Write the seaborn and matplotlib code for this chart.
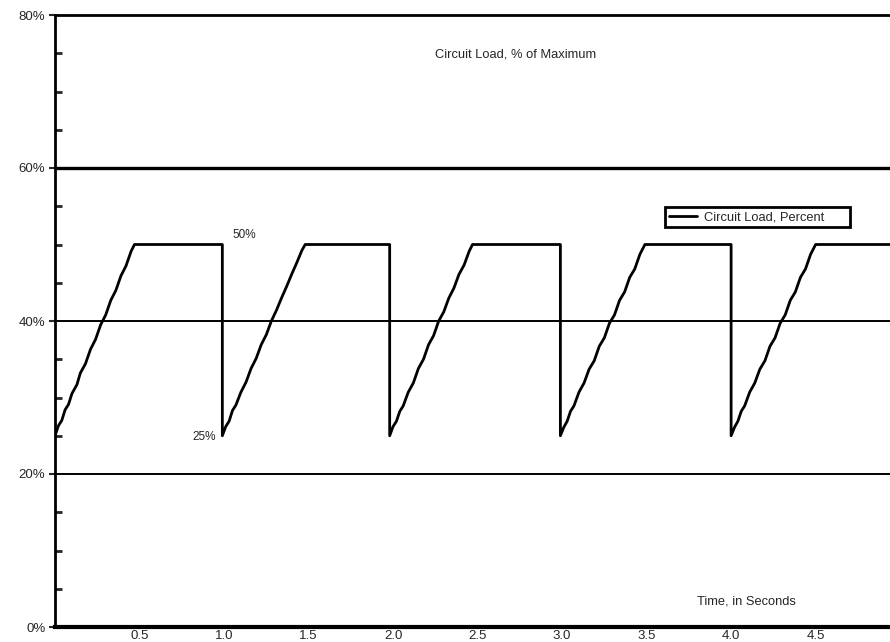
import matplotlib
matplotlib.use("Agg")
import matplotlib.pyplot as plt
import seaborn as sns
import pandas as pd
from matplotlib.ticker import MultipleLocator, FixedLocator

# time in seconds and circuit load in percent
time_s = [
    0.00, 0.02, 0.04, 0.06, 0.08, 0.10, 0.13, 0.15, 0.18, 0.21, 0.24, 0.27, 0.30, 0.33, 0.36, 0.39, 0.42, 0.45, 0.47, 0.99,
    0.99, 1.01, 1.03, 1.05, 1.07, 1.10, 1.13, 1.16, 1.19, 1.22, 1.25, 1.28, 1.31, 1.34, 1.37, 1.40, 1.43, 1.46, 1.48, 1.98,
    1.98, 2.00, 2.02, 2.04, 2.06, 2.09, 2.12, 2.15, 2.18, 2.21, 2.24, 2.27, 2.30, 2.33, 2.36, 2.39, 2.42, 2.45, 2.47, 2.99,
    2.99, 3.01, 3.03, 3.05, 3.07, 3.10, 3.13, 3.16, 3.19, 3.22, 3.25, 3.28, 3.31, 3.34, 3.37, 3.40, 3.43, 3.46, 3.49, 4.00,
    4.00, 4.02, 4.04, 4.06, 4.08, 4.11, 4.14, 4.17, 4.20, 4.23, 4.26, 4.29, 4.32, 4.35, 4.38, 4.41, 4.44, 4.47, 4.50, 4.95,
]
load_pct = [
    25.0, 26.3, 27.0, 28.4, 29.1, 30.5, 31.7, 33.2, 34.4, 36.3, 37.6, 39.5, 40.8, 42.7, 44.0, 45.9, 47.2, 49.1, 50.0, 50.0,
    25.0, 26.2, 26.9, 28.3, 29.0, 30.7, 32.0, 33.8, 35.1, 36.9, 38.2, 40.0, 41.4, 43.0, 44.5, 46.1, 47.6, 49.2, 50.0, 50.0,
    25.0, 26.2, 26.9, 28.2, 28.9, 30.7, 31.9, 33.8, 35.0, 36.9, 38.1, 40.0, 41.2, 43.0, 44.3, 46.1, 47.3, 49.1, 50.0, 50.0,
    25.0, 26.1, 26.9, 28.2, 28.9, 30.7, 31.9, 33.7, 34.8, 36.7, 37.8, 39.7, 40.8, 42.7, 43.8, 45.7, 46.8, 48.7, 50.0, 50.0,
    25.0, 26.1, 26.9, 28.2, 28.9, 30.7, 31.9, 33.7, 34.8, 36.7, 37.8, 39.7, 40.8, 42.7, 43.8, 45.7, 46.8, 48.7, 50.0, 50.0,
]

x_ticks = [0.5, 1.0, 1.5, 2.0, 2.5, 3.0, 3.5, 4.0, 4.5]
y_ticks = [0, 20, 40, 60, 80]

sns.set_style("white")
plt.rcParams['font.family'] = ['Liberation Sans', 'DejaVu Sans']

df = pd.DataFrame({'Time': time_s, 'Load': load_pct})

fig = plt.figure(figsize=(8.9, 6.42), dpi=100)
ax = fig.add_axes([55 / 890, 15 / 642, 835 / 890, 612 / 642])

# horizontal reference lines
ax.axhline(20, color='black', lw=1.4, zorder=1)
ax.axhline(40, color='black', lw=1.4, zorder=1)
ax.axhline(60, color='black', lw=2.4, zorder=1)

sns.lineplot(data=df, x='Time', y='Load', ax=ax, color='black', lw=2.0,
             sort=False, estimator=None, label='Circuit Load, Percent', zorder=3)

ax.set_xlim(0, 4.94)
ax.set_ylim(0, 80)

ax.xaxis.set_major_locator(FixedLocator(x_ticks))
ax.set_xticklabels([f"{t:.1f}" for t in x_ticks])
ax.yaxis.set_major_locator(FixedLocator(y_ticks))
ax.set_yticklabels([f"{v}%" for v in y_ticks])
ax.yaxis.set_minor_locator(MultipleLocator(5))

ax.tick_params(axis='y', which='major', direction='out', length=4, width=1.5,
               labelsize=9.5, pad=3, left=True)
ax.tick_params(axis='y', which='minor', direction='in', length=5, width=2, left=True)
ax.tick_params(axis='x', which='major', length=0, labelsize=9.5, pad=2)

ax.spines['right'].set_visible(False)
ax.spines['left'].set_linewidth(2)
ax.spines['top'].set_linewidth(2)
ax.spines['bottom'].set_linewidth(3)
for s in ax.spines.values():
    s.set_color('black')

ax.set_xlabel('')
ax.set_ylabel('')

ax.text(0.551, 0.935, 'Circuit Load, % of Maximum', transform=ax.transAxes,
        ha='center', va='center', fontsize=9.3)
ax.text(0.8275, 0.041, 'Time, in Seconds', transform=ax.transAxes,
        ha='center', va='center', fontsize=9.3)
ax.text(1.05, 51.2, '50%', ha='left', va='center', fontsize=8.5)
ax.text(0.95, 24.8, '25%', ha='right', va='center', fontsize=8.5)

leg = ax.legend(loc='upper left', bbox_to_anchor=(0.7305, 0.646, 0.2216, 0.04),
                mode='expand', borderaxespad=0,
                fancybox=False, edgecolor='black', framealpha=1, fontsize=9.3,
                handlelength=2.2, handletextpad=0.5, borderpad=0.3)
leg.get_frame().set_linewidth(2)

fig.savefig('out.png', dpi=100)
